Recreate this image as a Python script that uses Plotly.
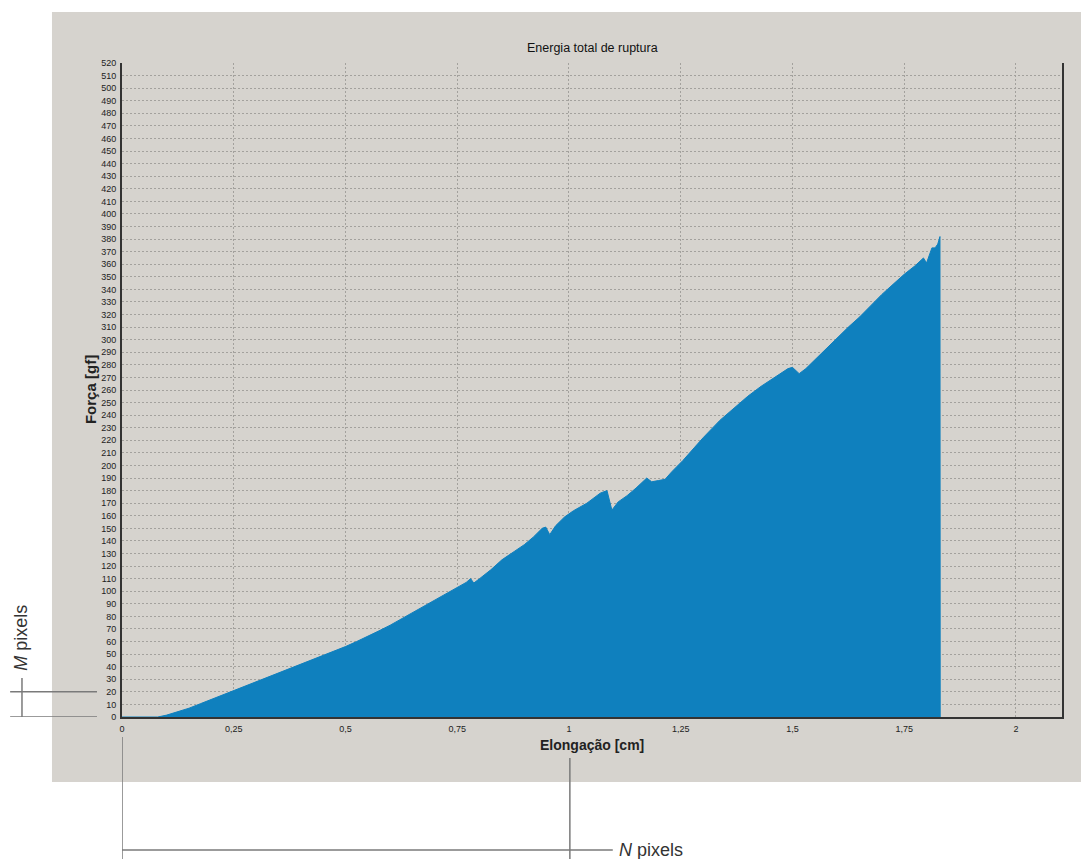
import plotly.graph_objects as go

# Force-elongation curve of the rupture test
elongation_cm = [
    0.000, 0.080, 0.100, 0.125, 0.150, 0.175, 0.200, 0.225, 0.250, 0.275,
    0.300, 0.325, 0.350, 0.375, 0.400, 0.425, 0.450, 0.475, 0.500, 0.525,
    0.550, 0.575, 0.600, 0.625, 0.650, 0.675, 0.700, 0.720, 0.740, 0.755,
    0.770, 0.780, 0.787, 0.800, 0.825, 0.850, 0.875, 0.900, 0.920, 0.940,
    0.948, 0.957, 0.970, 0.990, 1.010, 1.040, 1.070, 1.085, 1.096, 1.110,
    1.130, 1.150, 1.174, 1.185, 1.200, 1.215, 1.230, 1.255, 1.280, 1.300,
    1.338, 1.370, 1.400, 1.430, 1.460, 1.490, 1.500, 1.515, 1.530, 1.550,
    1.575, 1.600, 1.625, 1.650, 1.675, 1.700, 1.725, 1.750, 1.775, 1.793,
    1.800, 1.812, 1.819, 1.825, 1.830, 1.8305,
]
force_gf = [
    0, 0, 1.5, 4, 7, 10.5, 14, 17.5, 21, 24,
    27.5, 31, 34.5, 38, 41.5, 45, 49, 52.5, 56, 60,
    64, 68.5, 73, 78, 83, 88, 93, 97, 101, 104,
    107, 110, 106.5, 110, 117, 125, 131, 137, 143, 150,
    151, 145, 152, 159, 164, 170, 178, 180, 164.5, 171,
    176, 182, 190, 187, 188, 189, 195, 204, 214, 222,
    236, 246, 255, 263, 270, 277, 278, 273, 277, 284,
    292, 301, 310, 318, 327, 336, 344, 352, 359, 365,
    361, 373, 373, 376, 382, 0,
]

x_tick_values = [0, 0.25, 0.5, 0.75, 1, 1.25, 1.5, 1.75, 2]
x_tick_labels = ["0", "0,25", "0,5", "0,75", "1", "1,25", "1,5", "1,75", "2"]
y_tick_values = list(range(0, 530, 10))
y_tick_labels = [str(v) for v in y_tick_values]

PANEL = "#d6d3ce"
BLUE = "#0f80be"
GRID = "#a3a19d"
AXIS = "#333333"
GUIDE = "#7a7a7a"
FONT = "Liberation Sans, Arial, sans-serif"

fig = go.Figure()
fig.add_trace(go.Scatter(
    x=elongation_cm, y=force_gf,
    mode="lines", fill="tozeroy",
    line=dict(color=BLUE, width=1),
    fillcolor=BLUE,
    hoverinfo="skip",
    showlegend=False,
))

shapes = [
    # grey window panel behind the chart
    dict(type="rect", xref="paper", yref="paper",
         x0=-0.0745, x1=1.03, y0=-0.0994, y1=1.078,
         fillcolor=PANEL, line=dict(width=0), layer="below"),
    # M pixels guide (between 0 and 20 gf)
    dict(type="line", xref="paper", yref="y", x0=-0.119, x1=-0.0266, y0=0, y1=0,
         line=dict(color=GUIDE, width=1.5)),
    dict(type="line", xref="paper", yref="y", x0=-0.119, x1=-0.0266, y0=20, y1=20,
         line=dict(color=GUIDE, width=1.5)),
    dict(type="line", xref="paper", yref="y", x0=-0.1064, x1=-0.1064, y0=0, y1=31,
         line=dict(color=GUIDE, width=1.5)),
    # N pixels guide (between 0 and 1 cm)
    dict(type="line", xref="x", yref="paper", x0=0, x1=0, y0=-0.0306, y1=-0.22,
         line=dict(color=GUIDE, width=1.5)),
    dict(type="line", xref="x", yref="paper", x0=1.002, x1=1.002, y0=-0.0627, y1=-0.22,
         line=dict(color=GUIDE, width=1.5)),
    dict(type="line", xref="x", yref="paper", x0=0, x1=1.098, y0=-0.2034, y1=-0.2034,
         line=dict(color=GUIDE, width=1.5)),
]

annotations = [
    dict(text="Energia total de ruptura", xref="paper", yref="paper",
         x=0.5, y=1.0229, xanchor="center", yanchor="middle", showarrow=False,
         font=dict(family=FONT, size=12.5, color="#111")),
    dict(text="<b>Elongação [cm]</b>", xref="paper", yref="paper",
         x=0.5, y=-0.0428, xanchor="center", yanchor="middle", showarrow=False,
         font=dict(family=FONT, size=14, color="#222")),
    dict(text="<b>Força [gf]</b>", xref="paper", yref="paper",
         x=-0.0340, y=0.5, xanchor="center", yanchor="middle", showarrow=False,
         textangle=-90, font=dict(family=FONT, size=15, color="#222")),
    dict(text="<i>M</i> pixels", xref="paper", yref="paper",
         x=-0.1077, y=0.1208, xanchor="center", yanchor="middle", showarrow=False,
         textangle=-90, font=dict(family=FONT, size=18, color="#333")),
    dict(text="<i>N</i> pixels", xref="paper", yref="paper",
         x=0.5268, y=-0.2034, xanchor="left", yanchor="middle", showarrow=False,
         font=dict(family=FONT, size=18, color="#333")),
]

fig.update_layout(
    width=1081, height=859,
    margin=dict(l=122, r=19, t=63, b=142),
    paper_bgcolor="white",
    plot_bgcolor="rgba(0,0,0,0)",
    shapes=shapes,
    annotations=annotations,
    showlegend=False,
)

fig.update_xaxes(
    range=[0, 2.103],
    tickvals=x_tick_values, ticktext=x_tick_labels,
    tickfont=dict(family=FONT, size=9, color="#222"),
    showgrid=True, gridcolor=GRID, gridwidth=1, griddash="2px,2px",
    zeroline=False,
    showline=True, linecolor=AXIS, linewidth=2,
    ticks="", ticklabelstandoff=2,
)
fig.update_yaxes(
    range=[0, 520],
    tickvals=y_tick_values, ticktext=y_tick_labels,
    tickfont=dict(family=FONT, size=9, color="#222"),
    showgrid=True, gridcolor=GRID, gridwidth=1, griddash="2px,2px",
    zeroline=False,
    showline=True, linecolor=AXIS, linewidth=2, mirror=True,
    ticks="", ticklabelstandoff=2,
)

fig.write_html("out.html")
